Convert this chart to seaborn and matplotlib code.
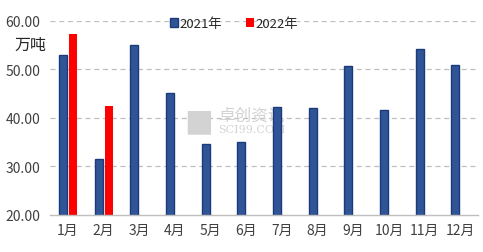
import matplotlib
matplotlib.use("Agg")
import matplotlib.pyplot as plt
import seaborn as sns
import pandas as pd
import numpy as np

months = ["1月", "2月", "3月", "4月", "5月", "6月", "7月", "8月", "9月", "10月", "11月", "12月"]
values_2021 = [52.9, 31.5, 55.0, 45.1, 34.6, 35.0, 42.2, 42.0, 50.7, 41.6, 54.2, 50.9]
values_2022 = [57.3, 42.4]
series = ["2021年", "2022年"]
y_ticks = [20, 30, 40, 50, 60]

rows = []
for m, v in zip(months, values_2021):
    rows.append({"month": m, "series": series[0], "value": v})
for m, v in zip(months, values_2022):
    rows.append({"month": m, "series": series[1], "value": v})
df = pd.DataFrame(rows)

sns.set_theme(style="white")
plt.rcParams["font.family"] = ["Noto Sans CJK SC", "DejaVu Sans"]

fig = plt.figure(figsize=(4.83, 2.53), dpi=100)
ax = fig.add_axes([0.1035, 0.147, 0.8865, 0.767])

palette = {"2021年": "#2F5597", "2022年": "#FF0000"}
sns.barplot(data=df, x="month", y="value", hue="series", order=months,
            hue_order=series, palette=palette, width=0.56, gap=0.2,
            saturation=1, ax=ax, errorbar=None, legend=True)

for p in ax.patches:
    fc = p.get_facecolor()
    if abs(fc[0] - 1.0) < 0.01 and fc[1] < 0.1:
        p.set_edgecolor("#FF0000")
        p.set_linewidth(0.0)
    else:
        p.set_edgecolor("#1B3A7A")
        p.set_linewidth(1.0)

ax.set_ylim(20, 60)
ax.set_yticks(y_ticks)
ax.set_yticklabels([f"{t:.2f}" for t in y_ticks])
ax.set_xlim(-0.5, 11.5)
ax.set_xlabel("")
ax.set_ylabel("")

for t in y_ticks[1:]:
    ax.axhline(t, color="#BFBFBF", lw=0.9, ls=(0, (4, 3)), zorder=0)
for s in ["left", "right", "top"]:
    ax.spines[s].set_visible(False)
ax.spines["bottom"].set_color("#BFBFBF")
ax.spines["bottom"].set_linewidth(1.0)

ax.tick_params(axis="y", labelsize=10, colors="#404040", length=0, pad=7)
ax.tick_params(axis="x", labelsize=10, colors="#404040", length=0, pad=6)

handles, labels = ax.get_legend_handles_labels()
ax.legend(handles, labels, loc="center", bbox_to_anchor=(0.43, 0.985),
          ncol=2, frameon=False, fontsize=9.5, handlelength=0.6,
          handleheight=0.6, handletextpad=0.15, columnspacing=1.8,
          borderaxespad=0)
for txt in ax.get_legend().get_texts():
    txt.set_color("#262626")

fig.text(0.03, 0.82, "万吨", fontsize=11.5, color="#262626", ha="left", va="center")

# watermark
ax.text(3.27, 39.3, "■", fontsize=22, color="#D3D3D3", ha="left", va="center",
        family="DejaVu Sans", zorder=0)
ax.text(4.2, 40.6, "卓创资讯", fontsize=12, color="#D3D3D3", ha="left", va="center", zorder=0)
ax.text(4.2, 37.7, "SCI99.COM", fontsize=8, color="#D3D3D3", ha="left", va="center",
        family="DejaVu Serif", zorder=0)

fig.savefig("out.png", dpi=100)
